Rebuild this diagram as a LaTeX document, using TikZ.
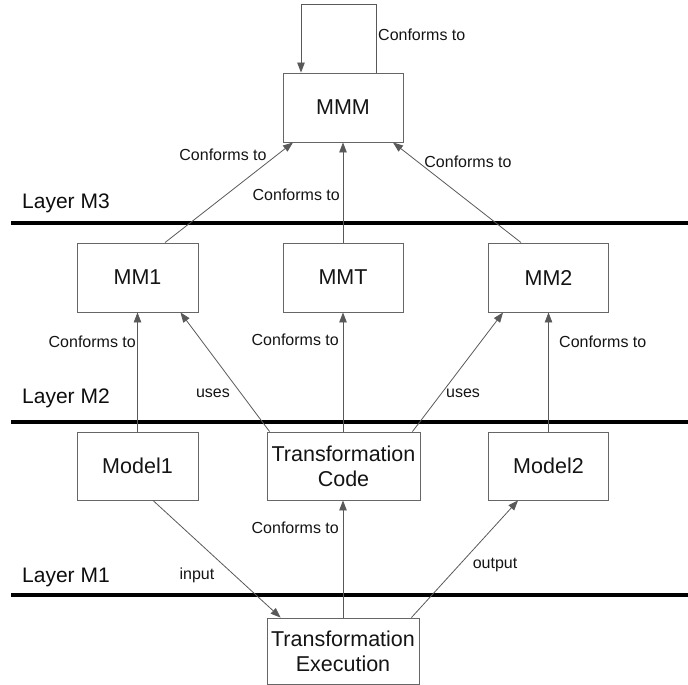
\documentclass[tikz,border=0pt]{standalone}
\usepackage{fontspec}
\setmainfont{Liberation Sans}
\usetikzlibrary{arrows.meta,calc}
\tikzset{
  box/.style={draw=black!60, line width=0.9pt, rectangle, inner sep=0pt, align=center,
    text=black!92, font=\fontsize{21.5}{25}\selectfont},
  conn/.style={draw=black!65, line width=0.8pt, -{Triangle[length=10pt,width=7.5pt]}, shorten >=0pt},
  lbl/.style={inner sep=0pt, text=black!92, font=\fontsize{16}{18}\selectfont},
  layerlbl/.style={inner sep=0pt, anchor=west, text=black!95, font=\fontsize{21}{24}\selectfont},
  layerline/.style={draw=black, line width=3.2pt}
}
\begin{document}
\begin{tikzpicture}[x=1pt,y=-1pt]
\useasboundingbox (0,0) rectangle (688,685);
% nodes
\node[box, minimum width=120pt, minimum height=69pt] (MMM) at (343,107.5) {MMM};
\node[box, minimum width=121pt, minimum height=69pt] (MM1) at (137.5,277.5) {MM1};
\node[box, minimum width=120pt, minimum height=69pt] (MMT) at (343,277.5) {MMT};
\node[box, minimum width=120pt, minimum height=69pt] (MM2) at (548.5,277.5) {MM2};
\node[box, minimum width=121pt, minimum height=68pt] (Model1) at (137.5,466) {Model1};
\node[box, minimum width=153pt, minimum height=68pt] (TC) at (343.5,466) {Transformation\\Code};
\node[box, minimum width=120pt, minimum height=68pt] (Model2) at (548.5,466) {Model2};
\node[box, minimum width=152pt, minimum height=66pt] (TE) at (343,651) {Transformation\\Execution};
% layer lines and labels
\coordinate (L3a) at (11,223); \coordinate (L3b) at (688,223);
\coordinate (L2a) at (11,422); \coordinate (L2b) at (688,422);
\coordinate (L1a) at (11,595); \coordinate (L1b) at (688,595);
\draw[layerline] (L3a) -- (L3b);
\draw[layerline] (L2a) -- (L2b);
\draw[layerline] (L1a) -- (L1b);
\node[layerlbl] (LM3) at (22,203) {Layer M3};
\node[layerlbl] (LM2) at (22,398) {Layer M2};
\node[layerlbl] (LM1) at (22,577) {Layer M1};
% self loop
\draw[conn] ([xshift=33pt]MMM.north) -- ++(0,-68) -| ([xshift=-42pt]MMM.north);
\node[lbl, anchor=west] (cl0) at (378,35) {Conforms to};
% M2 -> M3
\draw[conn] ([xshift=27.5pt]MM1.north) -- ([xshift=-50pt]MMM.south);
\draw[conn] (MMT.north) -- (MMM.south);
\draw[conn] ([xshift=-27.5pt]MM2.north) -- ([xshift=50pt]MMM.south);
\node[lbl] (cl1) at (223,155) {Conforms to};
\node[lbl, anchor=east] (cl2) at (340,195) {Conforms to};
\node[lbl] (cl3) at (468,162) {Conforms to};
% M1 -> M2
\draw[conn] (Model1.north) -- (MM1.south);
\draw[conn] ([xshift=3pt]TC.north west) -- ([xshift=-18pt]MM1.south east);
\draw[conn] ([xshift=-0.5pt]TC.north) -- (MMT.south);
\draw[conn] ([xshift=-8pt]TC.north east) -- ([xshift=15pt]MM2.south west);
\draw[conn] (Model2.north) -- (MM2.south);
\node[lbl, anchor=east] (cl4) at (136,342) {Conforms to};
\node[lbl, anchor=east] (cl5) at (339,340) {Conforms to};
\node[lbl, anchor=west] (cl6) at (559,342) {Conforms to};
\node[lbl] (u1) at (213,393) {uses};
\node[lbl] (u2) at (463,393) {uses};
% execution
\draw[conn] ([xshift=15.5pt]Model1.south) -- ([xshift=14pt]TE.north west);
\draw[conn] (TE.north) -- (TE.north |- TC.south);
\draw[conn] ([xshift=-8pt]TE.north east) -- ([xshift=30pt]Model2.south west);
\node[lbl, anchor=east] (cl7) at (339,528) {Conforms to};
\node[lbl] (in) at (197,575) {input};
\node[lbl] (out) at (495,565) {output};
\end{tikzpicture}
\end{document}
